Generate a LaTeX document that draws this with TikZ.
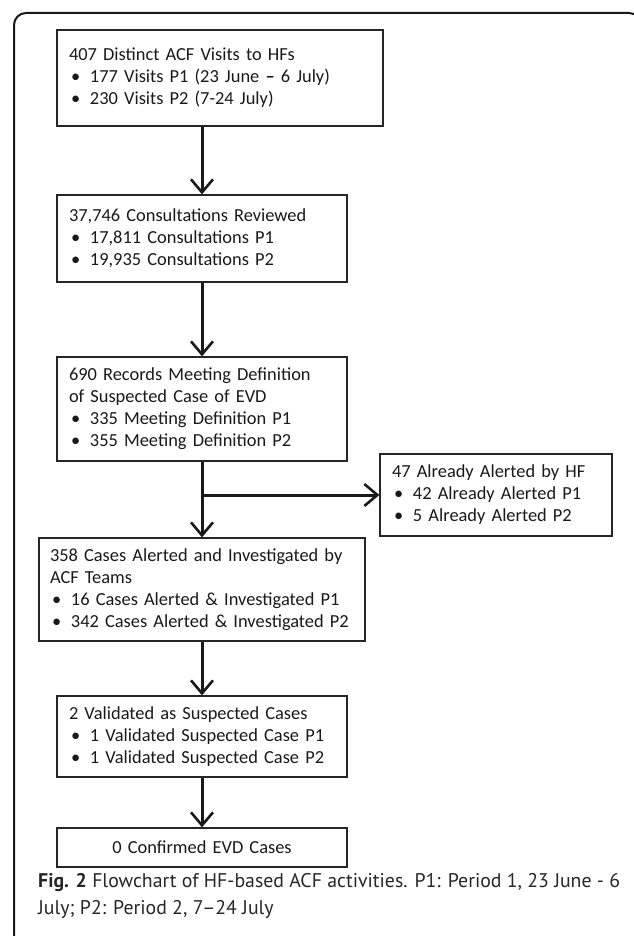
\documentclass[tikz,border=0pt]{standalone}
\usepackage{fontspec}
\setmainfont{Carlito}
\newfontfamily\capfont{PT Sans}
\usetikzlibrary{arrows.meta}
\newcommand\bul[1]{\makebox[21pt][l]{\hspace{2pt}\textbullet}#1}
\tikzset{
  bx/.style={draw=black!85, line width=1.3pt, inner xsep=12pt, inner ysep=0pt, align=left,
    font=\fontsize{18.4}{22}\selectfont, text=black!90},
  arr/.style={line width=3pt, black!90, -{Straight Barb[length=13pt,width=22pt,line width=2.6pt]}},
  framebox/.style={line width=2pt, black!90, rounded corners=12pt},
  captext/.style={anchor=north west, align=left, inner sep=0pt, text=black!85,
    font=\capfont\fontsize{19.8}{27}\selectfont}
}
\begin{document}
\begin{tikzpicture}[x=1pt,y=-1pt]
\useasboundingbox (0,0) rectangle (633,936);
\draw[framebox] (14,944) -- (14,13) -- (641,13) -- (641,944);
\node[bx, text width=302pt, minimum height=96pt] (b1) at (220,78)
  {407 Distinct ACF Visits to HFs\\
   \bul{177 Visits P1 (23 June {\bfseries –} 6 July)}\\
   \bul{230 Visits P2 (7-24 July)}};
\node[bx, text width=266pt, minimum height=87pt] (b2) at (202,238.5)
  {37,746 Consultations Reviewed\\
   \bul{17,811 Consultations P1}\\
   \bul{19,935 Consultations P2}};
\node[bx, text width=266pt, minimum height=104pt] (b3) at (202,409)
  {690 Records Meeting Definition\\
   of Suspected Case of EVD\\
   \bul{335 Meeting Definition P1}\\
   \bul{355 Meeting Definition P2}};
\node[bx, text width=208pt, minimum height=82pt] (b4) at (496,495)
  {47 Already Alerted by HF\\
   \bul{42 Already Alerted P1}\\
   \bul{5 Already Alerted P2}};
\node[bx, inner xsep=11pt, text width=304pt, minimum height=103pt] (b5) at (202,589.5)
  {358 Cases Alerted and Investigated by\\
   ACF Teams\\
   \bul{16 Cases Alerted \& Investigated P1}\\
   \bul{\mbox{342 Cases Alerted \& Investigated P2}}};
\node[bx, text width=266pt, minimum height=81pt] (b6) at (202,736.5)
  {2 Validated as Suspected Cases\\
   \bul{1 Validated Suspected Case P1}\\
   \bul{1 Validated Suspected Case P2}};
\node[bx, text width=266pt, minimum height=39pt, align=center] (b7) at (202,847.5)
  {0 Confirmed EVD Cases};
\draw[arr] (b1.south -| b2.north) -- (b2.north);
\draw[arr] (b2.south) -- (b3.north);
\coordinate (br) at (b3.south |- b4.west);
\draw[arr] (b3.south) -- (b5.north);
\draw[arr] (br) -- (b4.west);
\draw[arr] (b5.south) -- (b6.north);
\draw[arr] (b6.south) -- (b7.north);
\node[captext] (cap) at (38,873)
  {{\bfseries Fig. 2} Flowchart of HF-based ACF activities. P1: Period 1, 23 June - 6\\
   July; P2: Period 2, 7–24 July};
\end{tikzpicture}
\end{document}
